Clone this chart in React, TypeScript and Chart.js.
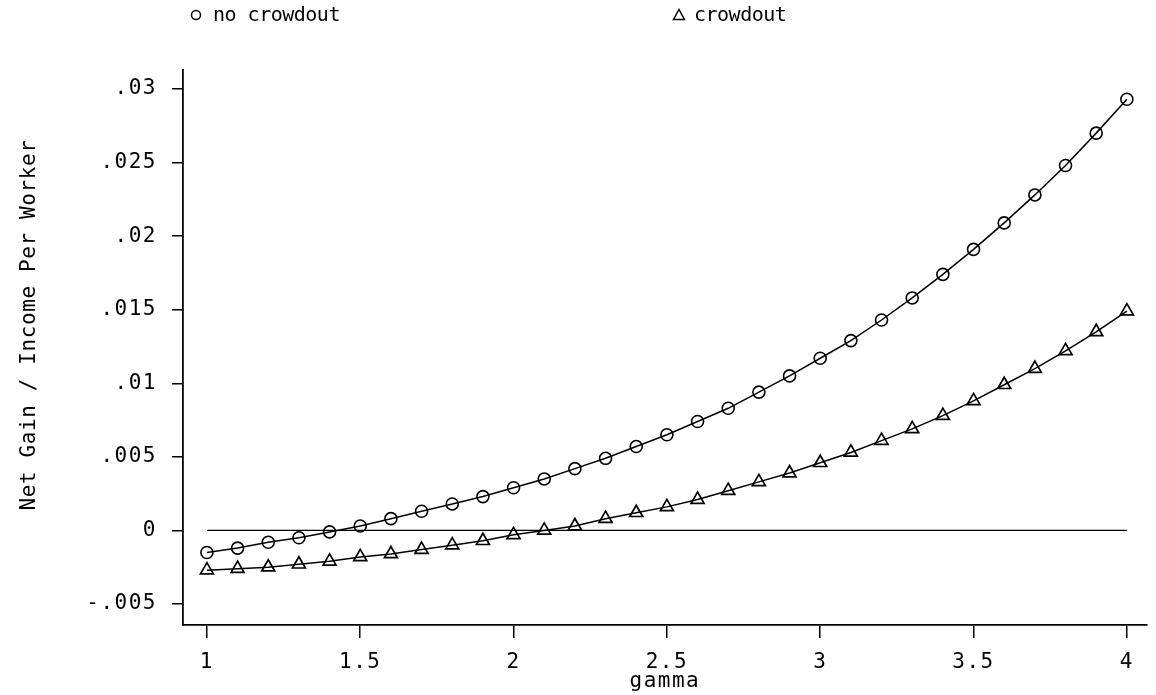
import React, { useEffect, useRef } from 'react';
import { Chart, registerables } from 'chart.js';

Chart.register(...registerables);

const gamma = [
  1.0, 1.1, 1.2, 1.3, 1.4, 1.5, 1.6, 1.7, 1.8, 1.9,
  2.0, 2.1, 2.2, 2.3, 2.4, 2.5, 2.6, 2.7, 2.8, 2.9,
  3.0, 3.1, 3.2, 3.3, 3.4, 3.5, 3.6, 3.7, 3.8, 3.9, 4.0,
];

const noCrowdout = [
  -0.0015, -0.0012, -0.0008, -0.0005, -0.0001, 0.0003, 0.0008, 0.0013, 0.0018, 0.0023,
  0.0029, 0.0035, 0.0042, 0.0049, 0.0057, 0.0065, 0.0074, 0.0083, 0.0094, 0.0105,
  0.0117, 0.0129, 0.0143, 0.0158, 0.0174, 0.0191, 0.0209, 0.0228, 0.0248, 0.0270, 0.0293,
];

const crowdout = [
  -0.0027, -0.0026, -0.0025, -0.0023, -0.0021, -0.0018, -0.0016, -0.0013, -0.0010, -0.0007,
  -0.0003, 0.0000, 0.0003, 0.0008, 0.0012, 0.0016, 0.0021, 0.0027, 0.0033, 0.0039,
  0.0046, 0.0053, 0.0061, 0.0069, 0.0078, 0.0088, 0.0099, 0.0110, 0.0122, 0.0135, 0.0149,
];

const zeroLineX = [1, 4];
const zeroLineY = [0, 0];

const xTicks = [1, 1.5, 2, 2.5, 3, 3.5, 4];
const xTickLabels = ['1', '1.5', '2', '2.5', '3', '3.5', '4'];
const yTicks = [-0.005, 0, 0.005, 0.01, 0.015, 0.02, 0.025, 0.03];
const yTickLabels = ['-.005', '0', '.005', '.01', '.015', '.02', '.025', '.03'];

const seriesLabels = ['no crowdout', 'crowdout'];
const xTitle = 'gamma';
const yTitle = 'Net Gain / Income Per Worker';

const FONT = "'DejaVu Sans Mono', 'Liberation Mono', monospace";
const FONT_SIZE = 21;

const textPlugin = {
  id: 'textPlugin',
  beforeDraw(chart: any) {
    chart.ctx.letterSpacing = '1.5px';
  },
  afterDraw(chart: any) {
    const ctx = chart.ctx as CanvasRenderingContext2D;
    ctx.save();
    ctx.fillStyle = '#000';
    ctx.strokeStyle = '#000';
    ctx.lineWidth = 1.5;
    ctx.font = `20px ${FONT}`;
    (ctx as any).letterSpacing = '-0.5px';
    ctx.textBaseline = 'alphabetic';
    ctx.textAlign = 'left';

    // legend: circle marker + label
    ctx.beginPath();
    ctx.arc(196, 15, 4.5, 0, Math.PI * 2);
    ctx.stroke();
    ctx.fillText(seriesLabels[0], 213, 21);

    // legend: triangle marker + label
    ctx.beginPath();
    ctx.moveTo(679, 9.5);
    ctx.lineTo(684.5, 19.5);
    ctx.lineTo(673.5, 19.5);
    ctx.closePath();
    ctx.stroke();
    ctx.fillText(seriesLabels[1], 694, 21);

    // y title
    ctx.font = `${FONT_SIZE}px ${FONT}`;
    ctx.translate(35, 325);
    ctx.rotate(-Math.PI / 2);
    ctx.textAlign = 'center';
    (ctx as any).letterSpacing = '0.6px';
    ctx.fillText(yTitle, 0, 0);
    ctx.restore();
  },
};

export default function App() {
  const ref = useRef<HTMLCanvasElement>(null);

  useEffect(() => {
    if (!ref.current) return;
    const chart = new Chart(ref.current, {
      type: 'line',
      data: {
        datasets: [
          {
            label: seriesLabels[0],
            data: gamma.map((g, i) => ({ x: g, y: noCrowdout[i] })),
            borderColor: '#000',
            borderWidth: 1.5,
            pointStyle: 'circle',
            pointRadius: 6,
            pointBorderWidth: 1.6,
            pointBorderColor: '#000',
            pointBackgroundColor: 'rgba(0,0,0,0)',
            tension: 0,
            fill: false,
          },
          {
            label: seriesLabels[1],
            data: gamma.map((g, i) => ({ x: g, y: crowdout[i] })),
            borderColor: '#000',
            borderWidth: 1.5,
            pointStyle: 'triangle',
            pointRadius: 7.5,
            pointBorderWidth: 1.7,
            pointBorderColor: '#000',
            pointBackgroundColor: 'rgba(0,0,0,0)',
            tension: 0,
            fill: false,
          },
          {
            label: 'zero',
            data: zeroLineX.map((x, i) => ({ x, y: zeroLineY[i] })),
            borderColor: '#000',
            borderWidth: 1.2,
            pointRadius: 0,
            tension: 0,
            fill: false,
          },
        ],
      },
      options: {
        responsive: false,
        animation: false,
        events: [],
        layout: { padding: { left: 0, top: 70, right: 6, bottom: 0 } },
        plugins: {
          legend: { display: false },
          tooltip: { enabled: false },
          title: { display: false },
        },
        elements: { line: { borderCapStyle: 'butt' } },
        scales: {
          x: {
            type: 'linear',
            min: 0.922,
            max: 4.065,
            afterBuildTicks: (scale: any) => {
              scale.ticks = xTicks.map((v) => ({ value: v }));
            },
            afterFit: (scale: any) => {
              scale.height = 70;
            },
            grid: {
              drawOnChartArea: false,
              drawTicks: true,
              tickLength: 13,
              color: '#000',
              lineWidth: 1.5,
            },
            border: { display: true, color: '#000', width: 1.8 },
            ticks: {
              color: '#000',
              font: { family: FONT, size: FONT_SIZE },
              padding: 12,
              maxRotation: 0,
              autoSkip: false,
              callback: (v: any) => {
                const i = xTicks.indexOf(Number(v));
                return i >= 0 ? xTickLabels[i] : '';
              },
            },
            title: {
              display: true,
              text: xTitle,
              color: '#000',
              font: { family: FONT, size: FONT_SIZE },
              padding: { top: 0, bottom: 1 },
            },
          },
          y: {
            type: 'linear',
            min: -0.006427,
            max: 0.03129,
            afterBuildTicks: (scale: any) => {
              scale.ticks = yTicks.map((v) => ({ value: v }));
            },
            afterFit: (scale: any) => {
              scale.width = 183;
            },
            grid: {
              drawOnChartArea: false,
              drawTicks: true,
              tickLength: 11,
              color: '#000',
              lineWidth: 1.5,
            },
            border: { display: true, color: '#000', width: 1.8 },
            ticks: {
              color: '#000',
              font: { family: FONT, size: FONT_SIZE },
              padding: 15,
              autoSkip: false,
              callback: (v: any) => {
                const i = yTicks.findIndex((t) => Math.abs(t - Number(v)) < 1e-9);
                return i >= 0 ? yTickLabels[i] : '';
              },
            },
          },
        },
      },
      plugins: [textPlugin],
    } as any);
    return () => chart.destroy();
  }, []);

  return (
    <div style={{ position: 'fixed', left: 0, top: 0, width: 1156, height: 695, background: '#fff' }}>
      <canvas ref={ref} width={1156} height={695} style={{ width: 1156, height: 695, display: 'block' }} />
    </div>
  );
}
